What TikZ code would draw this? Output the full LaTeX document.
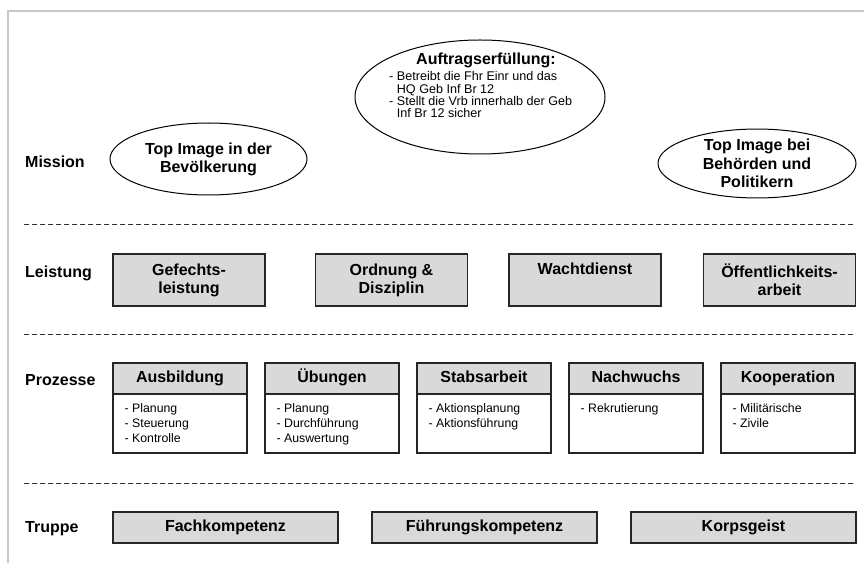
\documentclass[tikz,border=0pt]{standalone}
\usepackage{fontspec}
\setmainfont{Liberation Sans}
\usepackage{tikz}
\usetikzlibrary{positioning,shapes.geometric}
\definecolor{boxgray}{RGB}{217,217,217}
\definecolor{framegray}{RGB}{200,200,200}
\newcommand\tightlines{\lineskiplimit=-6pt\relax\lineskip=0pt\relax}

\begin{document}
\begin{tikzpicture}[x=1pt,y=1pt,on grid,
    big/.style={font=\fontsize{16}{18}\selectfont\bfseries},
    small/.style={font=\fontsize{12.3}{15}\selectfont},
    level/.style={big,anchor=base west,inner sep=0},
    goal/.style={ellipse,draw,line width=1pt,inner sep=0,big,align=center},
    task/.style={draw=black!85,line width=1.1pt,fill=boxgray,minimum width=152pt,minimum height=52pt,inner sep=0,big,align=center},
    proc/.style={draw=black!85,line width=1.1pt,fill=boxgray,minimum width=134pt,minimum height=31pt,inner sep=0,big,text height=11.5pt,text depth=3.4pt},
    procbody/.style={draw=black!85,line width=1.1pt,fill=white,minimum width=134pt,minimum height=59pt,inner sep=0},
    items/.style={small,align=left,anchor=north west,inner sep=0},
    troop/.style={draw=black!85,line width=1.1pt,fill=boxgray,minimum width=225pt,minimum height=31pt,inner sep=0,big,text height=11.5pt,text depth=3.4pt},
    sep/.style={draw=black!80,line width=0.7pt,dash pattern=on 5pt off 3pt}]
  \useasboundingbox (0,0) rectangle (864,563);
  \coordinate (fr0) at (8,0);
  \coordinate (fr1) at (8,552);
  \coordinate (fr2) at (864,552);
  \draw[framegray,line width=1.6pt] (fr0) -- (fr1) -- (fr2);

  \node[level] (mission) at (25,395) {Mission};
  \node[level] (leistung) at (25,286) {Leistung};
  \node[level] (prozesse) at (25,178) {Prozesse};
  \node[level] (truppe) at (25,31) {Truppe};

  \foreach \y in {339,229,80}
    \draw[sep] (24,\y) -- (855,\y);

  \node[goal,minimum width=197pt,minimum height=72pt] (bevoelkerung) at (208.5,404) {Top Image in der\\Bevölkerung};
  \node[goal,minimum width=250pt,minimum height=114pt] (auftrag) at (480,466) {};
  \node[big,anchor=base,inner sep=0] (auftragT) at (486,498) {Auftragserfüllung:};
  \node[items,font=\fontsize{12.6}{12.4}\selectfont\tightlines] (auftragL) at (389,491.7)
    {\strut- Betreibt die Fhr Einr und das\\\phantom{- }HQ Geb Inf Br 12\\- Stellt die Vrb innerhalb der Geb\\\phantom{- }Inf Br 12 sicher};
  \node[goal,font=\fontsize{16}{18.5}\selectfont\bfseries,minimum width=198pt,minimum height=67pt] (behoerden) at (757,399.5) {Top Image bei\\Behörden und\\Politikern};

  \node[task] (gefecht) at (189,283) {Gefechts-\\leistung};
  \node[task] (ordnung) [right=202.5pt of gefecht] {Ordnung \&\\Disziplin};
  \node[task] (wacht) [right=193.5pt of ordnung] {Wachtdienst\\\strut};
  \node[task] (oeffentlich) [right=194.5pt of wacht] {Öffentlichkeits-\\arbeit};

  \node[proc] (ausbildung) at (180,184.5) {Ausbildung};
  \node[proc] (uebungen) [right=152pt of ausbildung] {Übungen};
  \node[proc] (stabsarbeit) [right=152pt of uebungen] {Stabsarbeit};
  \node[proc] (nachwuchs) [right=152pt of stabsarbeit] {Nachwuchs};
  \node[proc] (kooperation) [right=152pt of nachwuchs] {Kooperation};
  \foreach \p in {ausbildung,uebungen,stabsarbeit,nachwuchs,kooperation}
    \node[procbody] (\p B) [below=45pt of \p] {};
  \node[items] (ausbildungL) at ([xshift=12pt,yshift=-8.5pt]ausbildungB.north west) {\strut- Planung\\- Steuerung\\- Kontrolle};
  \node[items] (uebungenL) at ([xshift=12pt,yshift=-8.5pt]uebungenB.north west) {\strut- Planung\\- Durchführung\\- Auswertung};
  \node[items] (stabsarbeitL) at ([xshift=12pt,yshift=-8.5pt]stabsarbeitB.north west) {\strut- Aktionsplanung\\- Aktionsführung};
  \node[items] (nachwuchsL) at ([xshift=12pt,yshift=-8.5pt]nachwuchsB.north west) {\strut- Rekrutierung};
  \node[items] (kooperationL) at ([xshift=12pt,yshift=-8.5pt]kooperationB.north west) {\strut- Militärische\\- Zivile};

  \node[troop] (fach) at (225.5,35.5) {Fachkompetenz};
  \node[troop] (fuehrung) [right=259pt of fach] {Führungskompetenz};
  \node[troop] (korps) [right=259pt of fuehrung] {Korpsgeist};
\end{tikzpicture}
\end{document}
